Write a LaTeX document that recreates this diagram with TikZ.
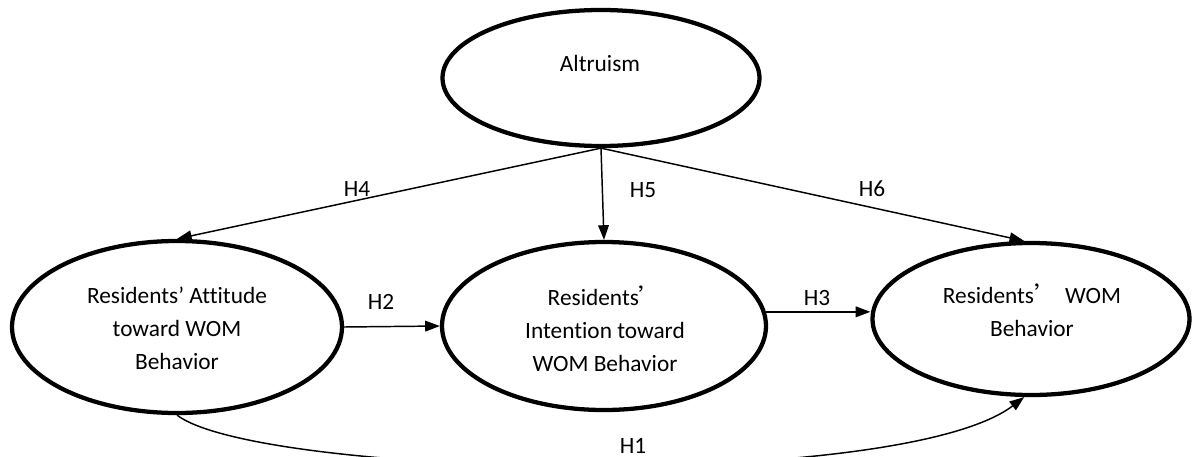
\documentclass[tikz,border=0pt]{standalone}
\usepackage{fontspec}
\setmainfont{Carlito}[Ligatures={NoCommon}]
\newfontfamily\cjk{Noto Sans CJK SC}
\usetikzlibrary{arrows.meta,shapes.geometric,calc}
\begin{document}
\begin{tikzpicture}[x=0.75pt,y=-0.75pt,
  construct/.style={ellipse,draw,line width=3.2pt,inner sep=0pt},
  txt/.style={font=\fontsize{17.5}{24.75}\selectfont,align=center,inner sep=0pt},
  lbl/.style={font=\fontsize{17.5}{19}\selectfont,inner sep=1pt},
  conn/.style={line width=1.1pt,-{Triangle[length=11pt,width=8pt]}}]
\useasboundingbox (0,0) rectangle (1193,457);
\node[construct,minimum width=317*0.75pt,minimum height=136*0.75pt] (alt) at (601,78) {};
\node[construct,minimum width=330*0.75pt,minimum height=172*0.75pt] (att) at (177,327) {};
\node[construct,minimum width=324*0.75pt,minimum height=168*0.75pt] (int) at (604,326) {};
\node[construct,minimum width=317*0.75pt,minimum height=152*0.75pt] (beh) at (1031,319) {};
\node[txt] (altT) at (600,63) {Altruism};
\node[txt] (attT) at (177,328) {Residents’ Attitude\\toward WOM\\Behavior};
\node[txt] (intT) at (605,329) {Residents{\cjk ’}\\Intention toward\\WOM Behavior};
\node[txt] (behT) at (1032,310) {Residents{\cjk ’}\,\,WOM\\Behavior};
\draw[conn] (alt.south) -- (att.north);
\draw[conn] (alt.south) -- (int.north);
\draw[conn] (alt.south) -- (beh.95);
\draw[conn] (att.east) -- (int.west);
\draw[conn] (int.5) -- (int.5 -| beh.west);
\draw[conn] (att.south) .. controls (260,478) and (900,492) .. (beh.265);
\node[lbl] (h4) at (357,189) {H4};
\node[lbl] (h5) at (643,190) {H5};
\node[lbl] (h6) at (872,189) {H6};
\node[lbl] (h2) at (381,302) {H2};
\node[lbl] (h3) at (817,298) {H3};
\node[lbl,fill=white] (h1) at (633,446) {H1};
\end{tikzpicture}
\end{document}
